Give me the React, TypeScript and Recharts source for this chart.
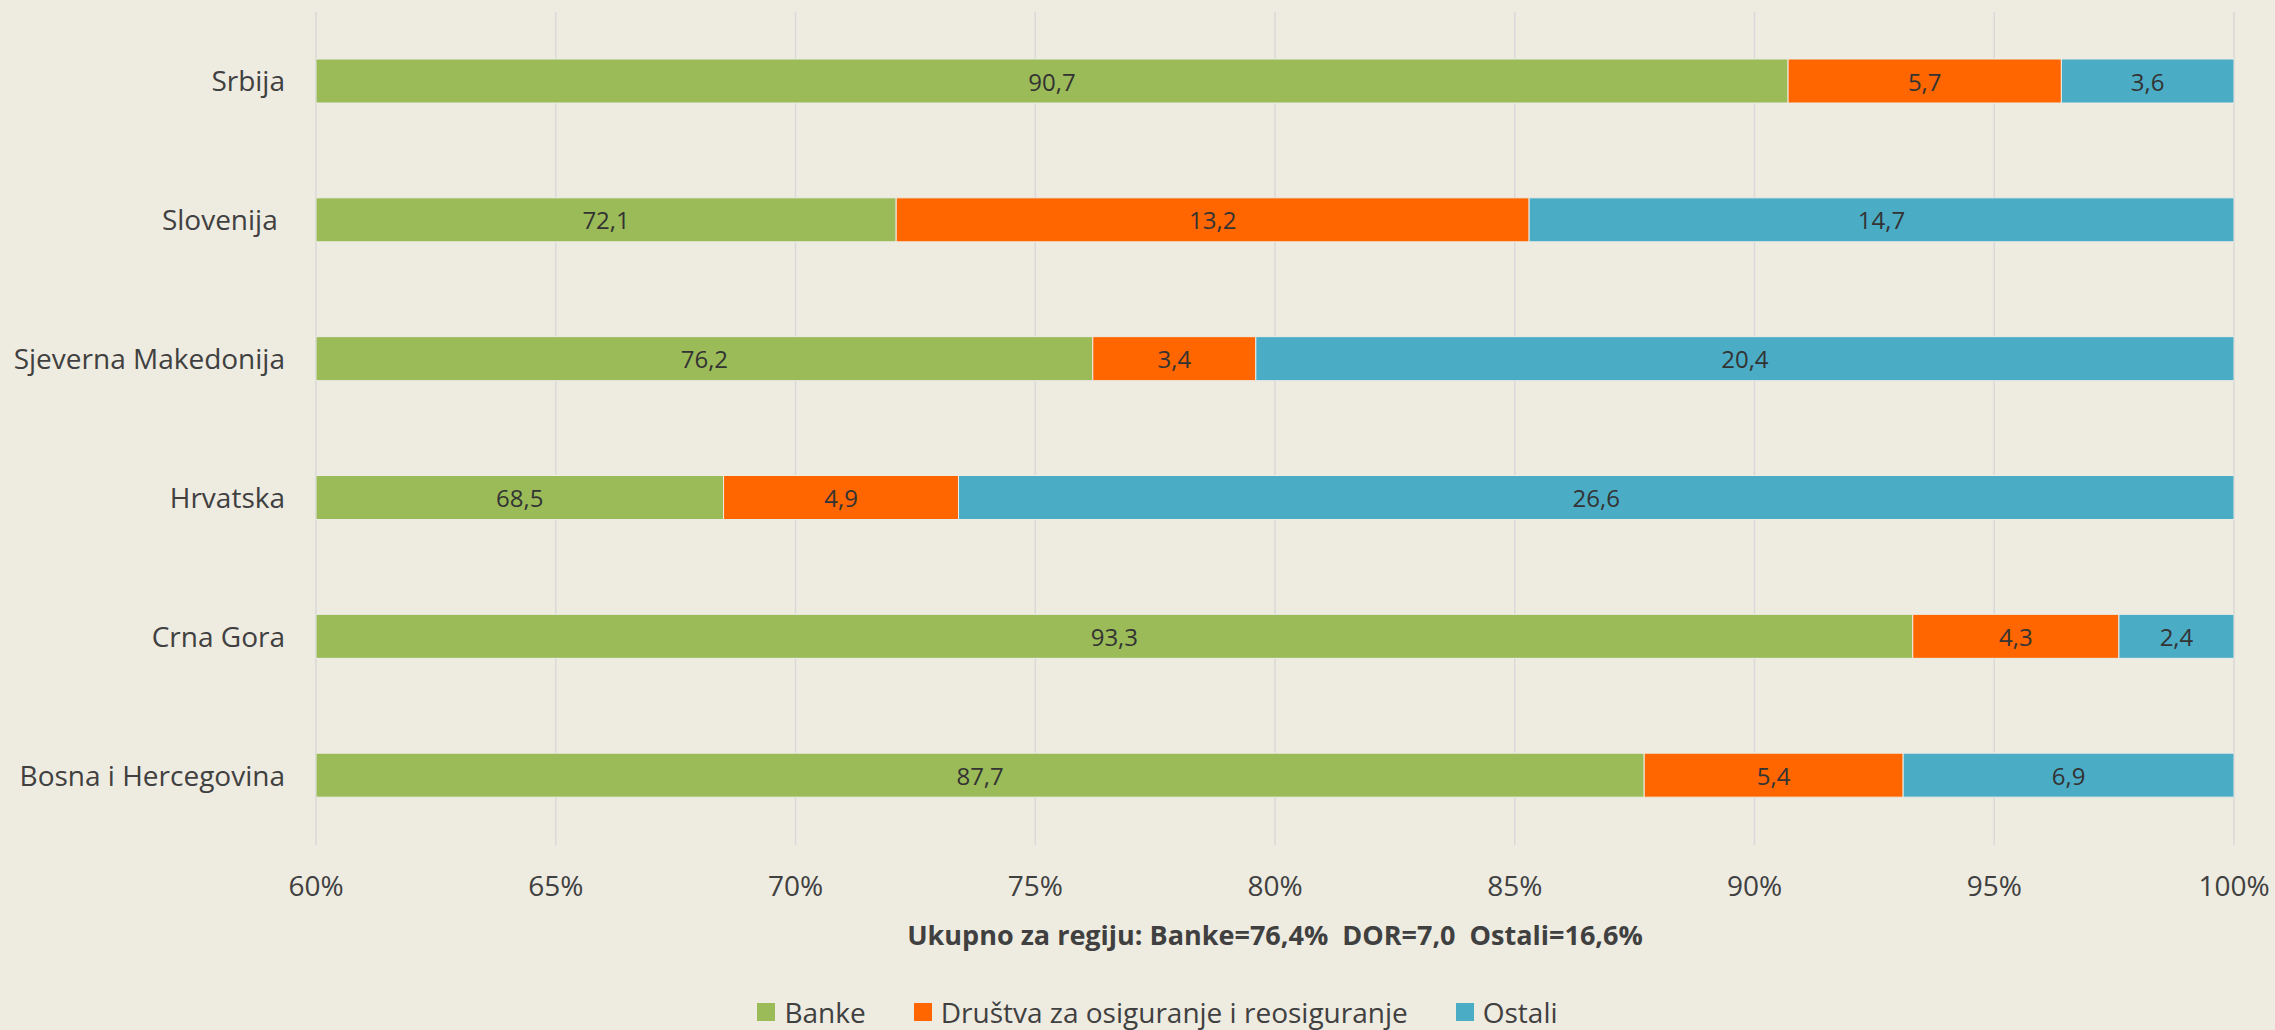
import React from "react";
import { BarChart, Bar, XAxis, YAxis, CartesianGrid, Legend, LabelList } from "recharts";

// countries, top to bottom
const CATEGORIES = ["Srbija", "Slovenija\u00A0", "Sjeverna Makedonija", "Hrvatska", "Crna Gora", "Bosna i Hercegovina"];
const BANKE = [90.7, 72.1, 76.2, 68.5, 93.3, 87.7];
const DOR = [5.7, 13.2, 3.4, 4.9, 4.3, 5.4];
const OSTALI = [3.6, 14.7, 20.4, 26.6, 2.4, 6.9];
const X_TICKS = [60, 65, 70, 75, 80, 85, 90, 95, 100];
const SUBTITLE = "Ukupno za regiju: Banke=76,4%\u00A0 DOR=7,0\u00A0 Ostali=16,6%";

const SERIES = [
    { key: "banke", name: "Banke", color: "#9BBB59" },
    { key: "dor", name: "Društva za osiguranje i reosiguranje", color: "#FF6600" },
    { key: "ostali", name: "Ostali", color: "#4BACC6" },
];

const FONT = "'Open Sans', 'DejaVu Sans', sans-serif";
const TEXT = "#404040";
const Y_AXIS_WIDTH = 316;
const PLOT_LEFT = Y_AXIS_WIDTH;

const data = CATEGORIES.map((name, i) => ({
    name,
    banke: BANKE[i],
    dor: DOR[i],
    ostali: OSTALI[i],
}));

const fmt = (v: number) => v.toFixed(1).replace(".", ",");

// label centred on the visible part of the segment (green bars start below 60%)
const SegmentLabel = (props: any) => {
    const vb = props.viewBox ?? props;
    const x = Number(vb.x ?? props.x);
    const y = Number(vb.y ?? props.y);
    const w = Number(vb.width ?? props.width);
    const h = Number(vb.height ?? props.height);
    const left = Math.max(x, PLOT_LEFT);
    const cx = (left + x + w) / 2;
    return (
        <text x={cx} y={y + h / 2} textAnchor="middle" dominantBaseline="central"
            fontFamily={FONT} fontSize={24} fill="#333333">
            {fmt(Number(props.value))}
        </text>
    );
};

const renderLegend = (props: any) => {
    const items = props.payload ?? [];
    return (
        <div style={{
            display: "flex", justifyContent: "center", alignItems: "center", height: 36,
            paddingLeft: 40, fontFamily: FONT, fontSize: 28, color: TEXT,
        }}>
            {items.map((it: any, i: number) => (
                <div key={i} style={{ display: "flex", alignItems: "center", marginLeft: i ? 48 : 0 }}>
                    <span style={{ width: 18, height: 18, background: it.color, marginRight: 9, display: "inline-block" }} />
                    <span>{it.value}</span>
                </div>
            ))}
        </div>
    );
};

const App: React.FC = () => {
    return (
        <div style={{ position: "absolute", left: 0, top: 0, width: 2275, height: 1030, background: "#EEEBE0" }}>
            <BarChart
                width={2275}
                height={1030}
                data={data}
                layout="vertical"
                margin={{ top: 12, right: 41, left: 0, bottom: 0 }}
                barSize={44}
            >
                <CartesianGrid horizontal={false} stroke="#D9D9D9" strokeWidth={1.5} />
                <XAxis
                    type="number"
                    domain={[60, 100]}
                    ticks={X_TICKS}
                    allowDataOverflow
                    tickFormatter={(v: number) => `${v}%`}
                    axisLine={false}
                    tickLine={false}
                    tickSize={0}
                    tickMargin={31}
                    height={149}
                    tick={{ fontFamily: FONT, fontSize: 28, fill: TEXT }}
                    label={{
                        value: SUBTITLE, position: "insideBottom", offset: 49,
                        style: { fontFamily: FONT, fontSize: 27, fontWeight: 700, fill: TEXT },
                    }}
                />
                <YAxis
                    type="category"
                    dataKey="name"
                    width={Y_AXIS_WIDTH}
                    axisLine={false}
                    tickLine={false}
                    tickSize={0}
                    tickMargin={31}
                    tick={{ fontFamily: FONT, fontSize: 28, fill: TEXT }}
                />
                <Legend verticalAlign="bottom" content={renderLegend} wrapperStyle={{ left: 0, width: 2275, bottom: 0 }} />
                {SERIES.map(s => (
                    <Bar key={s.key} dataKey={s.key} name={s.name} stackId="a" fill={s.color}
                        stroke="#EDEDE6" strokeWidth={1} isAnimationActive={false}>
                        <LabelList dataKey={s.key} content={SegmentLabel} />
                    </Bar>
                ))}
            </BarChart>
        </div>
    );
};

export default App;
